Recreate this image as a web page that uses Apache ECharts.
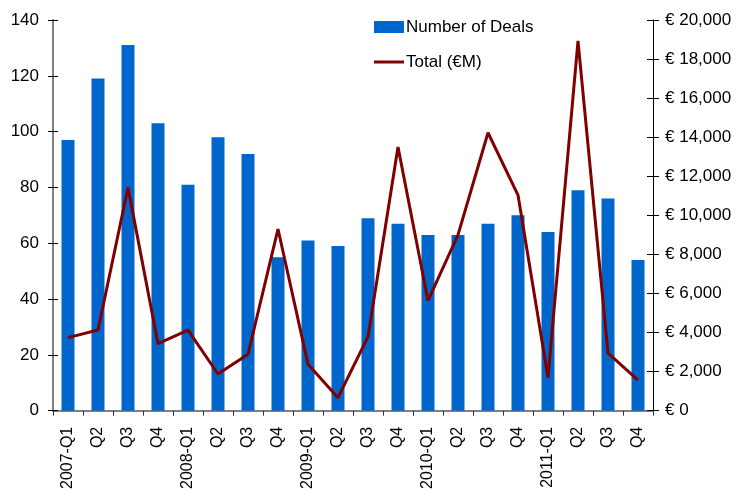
<!DOCTYPE html>
<html>
<head>
<meta charset="utf-8">
<script src="https://cdn.jsdelivr.net/npm/echarts@6/dist/echarts.min.js"></script>
<style>
  html, body { margin: 0; padding: 0; background: #ffffff; }
  #chart { width: 738px; height: 492px; }
</style>
</head>
<body>
<div id="chart"></div>
<script>
// Quarterly deal activity, 2007-2011
const quarters = [
  '2007-Q1', 'Q2', 'Q3', 'Q4',
  '2008-Q1', 'Q2', 'Q3', 'Q4',
  '2009-Q1', 'Q2', 'Q3', 'Q4',
  '2010-Q1', 'Q2', 'Q3', 'Q4',
  '2011-Q1', 'Q2', 'Q3', 'Q4'
];
const dealCounts = [97, 119, 131, 103, 81, 98, 92, 55, 61, 59, 69, 67, 63, 63, 67, 70, 64, 79, 76, 54];
const totalValueEurM = [3740, 4130, 11420, 3430, 4130, 1880, 2890, 9300, 2375, 670, 3790, 13500, 5630, 9000, 14230, 11040, 1690, 18930, 2950, 1570];

const FONT = '"Liberation Sans", Arial, sans-serif';
const BAR_BLUE = '#0066CC';
const LINE_RED = '#800000';

function euro(v) {
  const s = String(Math.round(v)).replace(/\B(?=(\d{3})+(?!\d))/g, ',');
  return '\u20AC ' + s;
}

const chart = echarts.init(document.getElementById('chart'), null, { renderer: 'canvas' });

chart.setOption({
  animation: false,
  backgroundColor: '#ffffff',
  textStyle: { fontFamily: FONT },
  grid: { left: 53, right: 85, top: 20, bottom: 81, containLabel: false },
  legend: {
    orient: 'vertical',
    left: 369,
    top: 12,
    itemWidth: 30,
    itemHeight: 12,
    itemGap: 15,
    symbolKeepAspect: true,
    textStyle: { fontFamily: FONT, fontSize: 17, color: '#000', lineHeight: 20, padding: [0, 0, 0, -3] },
    data: [
      { name: 'Number of Deals', icon: 'rect' },
      // thin horizontal stroke for the line series key
      { name: 'Total (\u20ACM)', icon: 'path://M0,0 L30,0 L30,3 L0,3 Z' }
    ]
  },
  xAxis: {
    type: 'category',
    data: quarters,
    boundaryGap: true,
    axisLine: { lineStyle: { color: '#808080', width: 2 } },
    axisTick: { show: true, length: 5, lineStyle: { color: '#333', width: 1 } },
    axisLabel: { rotate: 90, margin: 16, fontSize: 16, color: '#000', fontFamily: FONT, interval: 0 },
    splitLine: { show: false }
  },
  yAxis: [
    {
      type: 'value', position: 'left', min: 0, max: 140, interval: 20,
      axisLine: { show: true, lineStyle: { color: '#808080', width: 2 } },
      axisTick: { show: true, length: 5, lineStyle: { color: '#000', width: 1 } },
      axisLabel: { margin: 14, fontSize: 17, color: '#000', fontFamily: FONT },
      splitLine: { show: false }
    },
    {
      type: 'value', position: 'right', min: 0, max: 20000, interval: 2000,
      axisLine: { show: true, lineStyle: { color: '#000', width: 1 } },
      axisTick: { show: true, length: 6, lineStyle: { color: '#000', width: 1 } },
      axisLabel: { margin: 12, fontSize: 17, color: '#000', fontFamily: FONT, formatter: euro },
      splitLine: { show: false }
    },
    // inner halves of the crossing ticks
    {
      type: 'value', position: 'left', min: 0, max: 140, interval: 20,
      axisLine: { show: false },
      axisTick: { show: true, inside: true, length: 5, lineStyle: { color: '#000', width: 1 } },
      axisLabel: { show: false },
      splitLine: { show: false }
    },
    {
      type: 'value', position: 'right', min: 0, max: 20000, interval: 2000,
      axisLine: { show: false },
      axisTick: { show: true, inside: true, length: 6, lineStyle: { color: '#000', width: 1 } },
      axisLabel: { show: false },
      splitLine: { show: false }
    }
  ],
  series: [
    {
      name: 'Number of Deals',
      type: 'bar',
      yAxisIndex: 0,
      data: dealCounts,
      barWidth: 13,
      itemStyle: { color: BAR_BLUE }
    },
    {
      name: 'Total (\u20ACM)',
      type: 'line',
      yAxisIndex: 1,
      data: totalValueEurM,
      symbol: 'none',
      lineStyle: { color: LINE_RED, width: 3 },
      itemStyle: { color: LINE_RED },
      z: 3
    }
  ]
});
</script>
</body>
</html>
